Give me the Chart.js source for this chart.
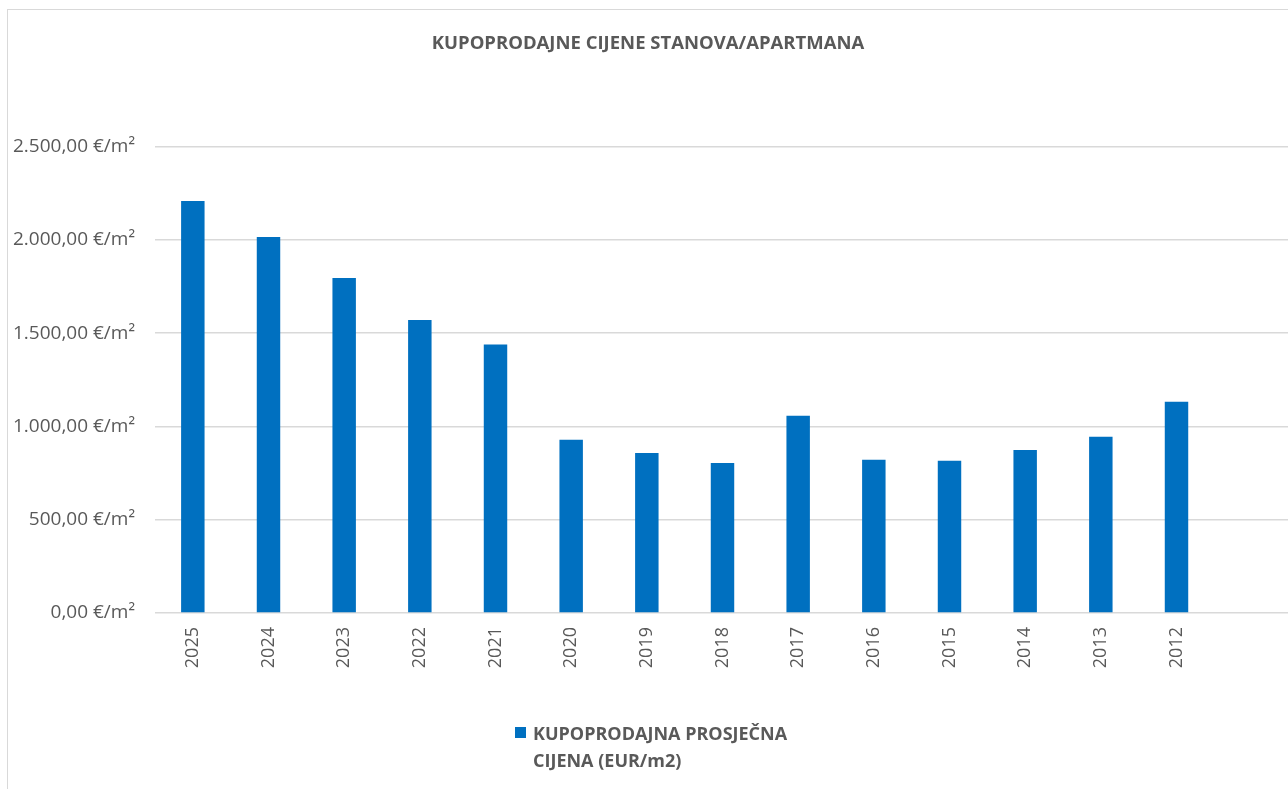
<!DOCTYPE html>
<html>
<head>
<meta charset="utf-8">
<script src="https://cdn.jsdelivr.net/npm/chart.js"></script>
<style>
  body { margin: 0; background: #fff; }
  #wrap { position: relative; width: 1288px; height: 789px; overflow: hidden; font-family: "Open Sans", sans-serif; }
  #frame { position: absolute; left: 7px; top: 9px; width: 1400px; height: 900px; border: 1px solid #d9d9d9; }
  #box { position: absolute; left: 0; top: 0; width: 1300px; height: 789px; }
  #legend { position: absolute; left: 515px; top: 720px; color: #595959; font-weight: bold; font-size: 18px; line-height: 27px; }
  #legend .sw { position: absolute; left: 0; top: 7px; width: 11px; height: 11px; background: #0070C0; }
  #legend .txt { margin-left: 18px; }
</style>
</head>
<body>
<div id="wrap">
  <div id="frame"></div>
  <div id="box"><canvas id="myChart"></canvas></div>
  <div id="legend"><div class="sw"></div><div class="txt">KUPOPRODAJNA PROSJEČNA<br>CIJENA (EUR/m2)</div></div>
</div>
<script>
const years = ['2025','2024','2023','2022','2021','2020','2019','2018','2017','2016','2015','2014','2013','2012'];
const prices = [2209, 2016, 1795, 1570, 1439, 929, 857, 804, 1057, 821, 816, 874, 945, 1132];
const yTicks = [0, 500, 1000, 1500, 2000, 2500];

const grey = '#595959';

// 2.500,00 €/m²
function fmt(v) {
  let s = Math.round(v).toString().replace(/\B(?=(\d{3})+(?!\d))/g, '.');
  return s + ',00 €/m²';
}

const data = {
  labels: [...years, ''],
  datasets: [{
    label: 'KUPOPRODAJNA PROSJEČNA CIJENA (EUR/m2)',
    data: [...prices, null],
    backgroundColor: '#0070C0',
    barPercentage: 0.31,
    categoryPercentage: 1
  }]
};

const config = {
  type: 'bar',
  data: data,
  options: {
    responsive: true,
    maintainAspectRatio: false,
    animation: false,
    layout: { padding: { left: 6, right: 10, top: 0, bottom: 76 } },
    plugins: {
      legend: { display: false },
      tooltip: { enabled: false },
      title: {
        display: true,
        text: 'KUPOPRODAJNE CIJENE STANOVA/APARTMANA',
        color: grey,
        font: { family: 'Open Sans', size: 18.5, weight: 'bold' },
        padding: { top: 33, bottom: 91.4 }
      }
    },
    scales: {
      x: {
        grid: { display: false, drawTicks: false },
        border: { display: false },
        ticks: {
          color: grey,
          font: { family: 'Open Sans', size: 18 },
          minRotation: 90,
          maxRotation: 90,
          padding: 14
        },
        afterFit: (s) => { s.height = 100; }
      },
      y: {
        min: 0,
        max: 2500,
        grid: { color: '#d9d9d9', lineWidth: 1.5, drawTicks: false },
        border: { display: false },
        afterBuildTicks: (s) => { s.ticks = yTicks.map(v => ({ value: v })); },
        ticks: {
          color: grey,
          font: { family: 'Open Sans', size: 19 },
          padding: 20,
          callback: (v) => fmt(v)
        },
        afterFit: (s) => { s.width = 149; }
      }
    }
  }
};

const myChart = new Chart(document.getElementById('myChart'), config);
</script>
</body>
</html>
